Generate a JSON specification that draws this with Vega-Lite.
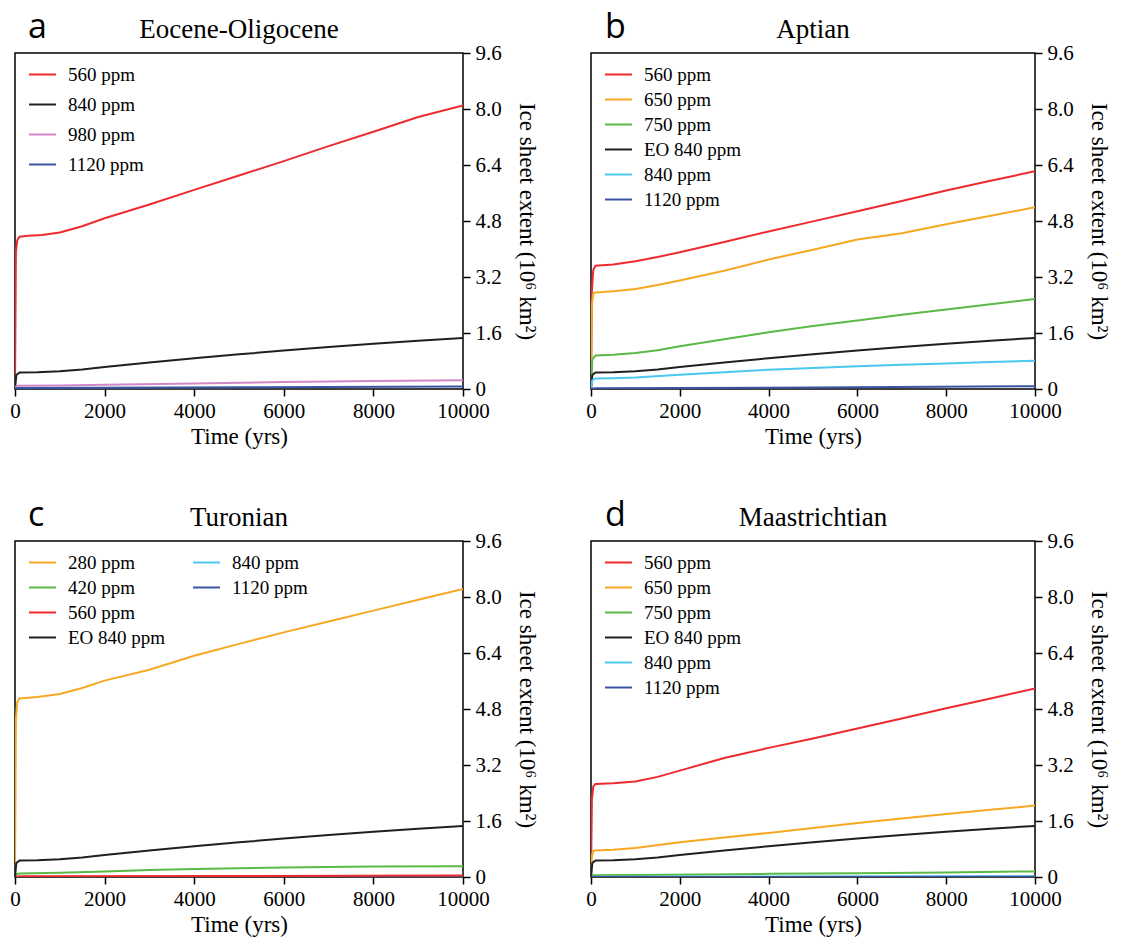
{
  "$schema": "https://vega.github.io/schema/vega-lite/v6.json",
  "background": "white",
  "padding": {"left": 9, "top": 11, "right": 0, "bottom": 0},
  "spacing": 50,
  "resolve": {"scale": {"color": "independent", "stroke": "independent"}, "legend": {"color": "independent", "stroke": "independent"}},
  "config": {
    "font": "Liberation Serif",
    "view": {"stroke": "black", "strokeWidth": 1.5},
    "axis": {"grid": false, "domain": false, "tickSize": 7, "tickWidth": 1.5, "tickColor": "black", "labelFont": "Liberation Serif", "labelFontSize": 21, "labelColor": "black", "titleFont": "Liberation Serif", "titleFontSize": 23, "titleFontWeight": "normal", "titleColor": "black", "labelFlush": false, "labelOverlap": false},
    "axisX": {"labelPadding": 4, "titlePadding": 4, "format": "d"},
    "axisY": {"labelPadding": 5, "titlePadding": 13},
    "legend": {"padding": 0, "labelFont": "Liberation Serif", "labelFontSize": 19, "labelColor": "black", "symbolType": "stroke", "symbolSize": 729, "symbolStrokeWidth": 2, "labelOffset": 11, "rowPadding": -1},
    "title": {"font": "Liberation Serif", "fontSize": 27, "fontWeight": "normal", "color": "black"},
    "concat": {"spacing": 47}
  },
  "datasets": {
    "A": [
      {"t":0,"v":0,"s":"560 ppm"},{"t":20,"v":3.9,"s":"560 ppm"},{"t":50,"v":4.25,"s":"560 ppm"},{"t":100,"v":4.35,"s":"560 ppm"},{"t":300,"v":4.38,"s":"560 ppm"},{"t":600,"v":4.4,"s":"560 ppm"},{"t":1000,"v":4.47,"s":"560 ppm"},{"t":1500,"v":4.65,"s":"560 ppm"},{"t":2000,"v":4.88,"s":"560 ppm"},{"t":3000,"v":5.27,"s":"560 ppm"},{"t":4000,"v":5.69,"s":"560 ppm"},{"t":5000,"v":6.1,"s":"560 ppm"},{"t":6000,"v":6.51,"s":"560 ppm"},{"t":7000,"v":6.94,"s":"560 ppm"},{"t":8000,"v":7.35,"s":"560 ppm"},{"t":9000,"v":7.77,"s":"560 ppm"},{"t":10000,"v":8.1,"s":"560 ppm"},
      {"t":0,"v":0,"s":"840 ppm"},{"t":30,"v":0.4,"s":"840 ppm"},{"t":100,"v":0.47,"s":"840 ppm"},{"t":500,"v":0.48,"s":"840 ppm"},{"t":1000,"v":0.51,"s":"840 ppm"},{"t":1500,"v":0.56,"s":"840 ppm"},{"t":2000,"v":0.63,"s":"840 ppm"},{"t":3000,"v":0.76,"s":"840 ppm"},{"t":4000,"v":0.88,"s":"840 ppm"},{"t":5000,"v":0.99,"s":"840 ppm"},{"t":6000,"v":1.1,"s":"840 ppm"},{"t":7000,"v":1.2,"s":"840 ppm"},{"t":8000,"v":1.29,"s":"840 ppm"},{"t":9000,"v":1.38,"s":"840 ppm"},{"t":10000,"v":1.46,"s":"840 ppm"},
      {"t":0,"v":0.05,"s":"980 ppm"},{"t":50,"v":0.09,"s":"980 ppm"},{"t":1000,"v":0.1,"s":"980 ppm"},{"t":2000,"v":0.12,"s":"980 ppm"},{"t":4000,"v":0.16,"s":"980 ppm"},{"t":6000,"v":0.2,"s":"980 ppm"},{"t":8000,"v":0.23,"s":"980 ppm"},{"t":10000,"v":0.25,"s":"980 ppm"},
      {"t":0,"v":0.02,"s":"1120 ppm"},{"t":100,"v":0.03,"s":"1120 ppm"},{"t":5000,"v":0.05,"s":"1120 ppm"},{"t":10000,"v":0.07,"s":"1120 ppm"}
    ],
    "B": [
      {"t":0,"v":0,"s":"560 ppm"},{"t":20,"v":2.8,"s":"560 ppm"},{"t":50,"v":3.4,"s":"560 ppm"},{"t":100,"v":3.52,"s":"560 ppm"},{"t":500,"v":3.56,"s":"560 ppm"},{"t":1000,"v":3.65,"s":"560 ppm"},{"t":1500,"v":3.77,"s":"560 ppm"},{"t":2000,"v":3.91,"s":"560 ppm"},{"t":3000,"v":4.2,"s":"560 ppm"},{"t":4000,"v":4.5,"s":"560 ppm"},{"t":5000,"v":4.79,"s":"560 ppm"},{"t":6000,"v":5.08,"s":"560 ppm"},{"t":7000,"v":5.37,"s":"560 ppm"},{"t":8000,"v":5.67,"s":"560 ppm"},{"t":9000,"v":5.95,"s":"560 ppm"},{"t":10000,"v":6.22,"s":"560 ppm"},
      {"t":0,"v":0,"s":"650 ppm"},{"t":20,"v":2.4,"s":"650 ppm"},{"t":50,"v":2.72,"s":"650 ppm"},{"t":100,"v":2.76,"s":"650 ppm"},{"t":500,"v":2.79,"s":"650 ppm"},{"t":1000,"v":2.86,"s":"650 ppm"},{"t":1500,"v":2.97,"s":"650 ppm"},{"t":2000,"v":3.1,"s":"650 ppm"},{"t":3000,"v":3.38,"s":"650 ppm"},{"t":4000,"v":3.7,"s":"650 ppm"},{"t":5000,"v":3.98,"s":"650 ppm"},{"t":6000,"v":4.27,"s":"650 ppm"},{"t":7000,"v":4.45,"s":"650 ppm"},{"t":8000,"v":4.71,"s":"650 ppm"},{"t":9000,"v":4.95,"s":"650 ppm"},{"t":10000,"v":5.19,"s":"650 ppm"},
      {"t":0,"v":0,"s":"750 ppm"},{"t":30,"v":0.85,"s":"750 ppm"},{"t":100,"v":0.96,"s":"750 ppm"},{"t":500,"v":0.98,"s":"750 ppm"},{"t":1000,"v":1.03,"s":"750 ppm"},{"t":1500,"v":1.11,"s":"750 ppm"},{"t":2000,"v":1.22,"s":"750 ppm"},{"t":3000,"v":1.42,"s":"750 ppm"},{"t":4000,"v":1.62,"s":"750 ppm"},{"t":5000,"v":1.8,"s":"750 ppm"},{"t":6000,"v":1.96,"s":"750 ppm"},{"t":7000,"v":2.12,"s":"750 ppm"},{"t":8000,"v":2.27,"s":"750 ppm"},{"t":9000,"v":2.42,"s":"750 ppm"},{"t":10000,"v":2.57,"s":"750 ppm"},
      {"t":0,"v":0,"s":"EO 840 ppm"},{"t":30,"v":0.4,"s":"EO 840 ppm"},{"t":100,"v":0.47,"s":"EO 840 ppm"},{"t":500,"v":0.48,"s":"EO 840 ppm"},{"t":1000,"v":0.51,"s":"EO 840 ppm"},{"t":1500,"v":0.56,"s":"EO 840 ppm"},{"t":2000,"v":0.63,"s":"EO 840 ppm"},{"t":3000,"v":0.76,"s":"EO 840 ppm"},{"t":4000,"v":0.88,"s":"EO 840 ppm"},{"t":5000,"v":0.99,"s":"EO 840 ppm"},{"t":6000,"v":1.1,"s":"EO 840 ppm"},{"t":7000,"v":1.2,"s":"EO 840 ppm"},{"t":8000,"v":1.29,"s":"EO 840 ppm"},{"t":9000,"v":1.38,"s":"EO 840 ppm"},{"t":10000,"v":1.46,"s":"EO 840 ppm"},
      {"t":0,"v":0,"s":"840 ppm"},{"t":30,"v":0.25,"s":"840 ppm"},{"t":100,"v":0.3,"s":"840 ppm"},{"t":500,"v":0.31,"s":"840 ppm"},{"t":1000,"v":0.33,"s":"840 ppm"},{"t":2000,"v":0.41,"s":"840 ppm"},{"t":3000,"v":0.48,"s":"840 ppm"},{"t":4000,"v":0.55,"s":"840 ppm"},{"t":5000,"v":0.6,"s":"840 ppm"},{"t":6000,"v":0.65,"s":"840 ppm"},{"t":7000,"v":0.69,"s":"840 ppm"},{"t":8000,"v":0.73,"s":"840 ppm"},{"t":9000,"v":0.77,"s":"840 ppm"},{"t":10000,"v":0.81,"s":"840 ppm"},
      {"t":0,"v":0.01,"s":"1120 ppm"},{"t":100,"v":0.02,"s":"1120 ppm"},{"t":5000,"v":0.04,"s":"1120 ppm"},{"t":10000,"v":0.08,"s":"1120 ppm"}
    ],
    "C": [
      {"t":0,"v":0,"s":"280 ppm"},{"t":20,"v":4.5,"s":"280 ppm"},{"t":50,"v":5.0,"s":"280 ppm"},{"t":100,"v":5.1,"s":"280 ppm"},{"t":500,"v":5.14,"s":"280 ppm"},{"t":1000,"v":5.23,"s":"280 ppm"},{"t":1500,"v":5.4,"s":"280 ppm"},{"t":2000,"v":5.61,"s":"280 ppm"},{"t":3000,"v":5.92,"s":"280 ppm"},{"t":4000,"v":6.32,"s":"280 ppm"},{"t":5000,"v":6.66,"s":"280 ppm"},{"t":6000,"v":6.99,"s":"280 ppm"},{"t":7000,"v":7.3,"s":"280 ppm"},{"t":8000,"v":7.61,"s":"280 ppm"},{"t":9000,"v":7.92,"s":"280 ppm"},{"t":10000,"v":8.23,"s":"280 ppm"},
      {"t":0,"v":0,"s":"420 ppm"},{"t":30,"v":0.08,"s":"420 ppm"},{"t":100,"v":0.1,"s":"420 ppm"},{"t":1000,"v":0.12,"s":"420 ppm"},{"t":2000,"v":0.16,"s":"420 ppm"},{"t":3000,"v":0.2,"s":"420 ppm"},{"t":4000,"v":0.23,"s":"420 ppm"},{"t":5000,"v":0.25,"s":"420 ppm"},{"t":6000,"v":0.27,"s":"420 ppm"},{"t":8000,"v":0.3,"s":"420 ppm"},{"t":10000,"v":0.31,"s":"420 ppm"},
      {"t":0,"v":0,"s":"560 ppm"},{"t":100,"v":0.02,"s":"560 ppm"},{"t":5000,"v":0.03,"s":"560 ppm"},{"t":10000,"v":0.04,"s":"560 ppm"},
      {"t":0,"v":0,"s":"EO 840 ppm"},{"t":30,"v":0.4,"s":"EO 840 ppm"},{"t":100,"v":0.47,"s":"EO 840 ppm"},{"t":500,"v":0.48,"s":"EO 840 ppm"},{"t":1000,"v":0.51,"s":"EO 840 ppm"},{"t":1500,"v":0.56,"s":"EO 840 ppm"},{"t":2000,"v":0.63,"s":"EO 840 ppm"},{"t":3000,"v":0.76,"s":"EO 840 ppm"},{"t":4000,"v":0.88,"s":"EO 840 ppm"},{"t":5000,"v":0.99,"s":"EO 840 ppm"},{"t":6000,"v":1.1,"s":"EO 840 ppm"},{"t":7000,"v":1.2,"s":"EO 840 ppm"},{"t":8000,"v":1.29,"s":"EO 840 ppm"},{"t":9000,"v":1.38,"s":"EO 840 ppm"},{"t":10000,"v":1.46,"s":"EO 840 ppm"},
      {"t":0,"v":0,"s":"840 ppm"},{"t":10000,"v":0.01,"s":"840 ppm"},
      {"t":0,"v":0,"s":"1120 ppm"},{"t":10000,"v":0.01,"s":"1120 ppm"}
    ],
    "D": [
      {"t":0,"v":0,"s":"560 ppm"},{"t":20,"v":2.2,"s":"560 ppm"},{"t":50,"v":2.58,"s":"560 ppm"},{"t":100,"v":2.66,"s":"560 ppm"},{"t":500,"v":2.68,"s":"560 ppm"},{"t":1000,"v":2.73,"s":"560 ppm"},{"t":1500,"v":2.86,"s":"560 ppm"},{"t":2000,"v":3.04,"s":"560 ppm"},{"t":3000,"v":3.4,"s":"560 ppm"},{"t":4000,"v":3.69,"s":"560 ppm"},{"t":5000,"v":3.96,"s":"560 ppm"},{"t":6000,"v":4.24,"s":"560 ppm"},{"t":7000,"v":4.53,"s":"560 ppm"},{"t":8000,"v":4.82,"s":"560 ppm"},{"t":9000,"v":5.1,"s":"560 ppm"},{"t":10000,"v":5.39,"s":"560 ppm"},
      {"t":0,"v":0,"s":"650 ppm"},{"t":20,"v":0.6,"s":"650 ppm"},{"t":50,"v":0.74,"s":"650 ppm"},{"t":100,"v":0.76,"s":"650 ppm"},{"t":500,"v":0.78,"s":"650 ppm"},{"t":1000,"v":0.83,"s":"650 ppm"},{"t":2000,"v":0.99,"s":"650 ppm"},{"t":3000,"v":1.13,"s":"650 ppm"},{"t":4000,"v":1.26,"s":"650 ppm"},{"t":5000,"v":1.4,"s":"650 ppm"},{"t":6000,"v":1.54,"s":"650 ppm"},{"t":7000,"v":1.67,"s":"650 ppm"},{"t":8000,"v":1.8,"s":"650 ppm"},{"t":9000,"v":1.92,"s":"650 ppm"},{"t":10000,"v":2.04,"s":"650 ppm"},
      {"t":0,"v":0,"s":"750 ppm"},{"t":50,"v":0.05,"s":"750 ppm"},{"t":1000,"v":0.06,"s":"750 ppm"},{"t":4000,"v":0.09,"s":"750 ppm"},{"t":6000,"v":0.11,"s":"750 ppm"},{"t":8000,"v":0.13,"s":"750 ppm"},{"t":10000,"v":0.16,"s":"750 ppm"},
      {"t":0,"v":0,"s":"EO 840 ppm"},{"t":30,"v":0.4,"s":"EO 840 ppm"},{"t":100,"v":0.47,"s":"EO 840 ppm"},{"t":500,"v":0.48,"s":"EO 840 ppm"},{"t":1000,"v":0.51,"s":"EO 840 ppm"},{"t":1500,"v":0.56,"s":"EO 840 ppm"},{"t":2000,"v":0.63,"s":"EO 840 ppm"},{"t":3000,"v":0.76,"s":"EO 840 ppm"},{"t":4000,"v":0.88,"s":"EO 840 ppm"},{"t":5000,"v":0.99,"s":"EO 840 ppm"},{"t":6000,"v":1.1,"s":"EO 840 ppm"},{"t":7000,"v":1.2,"s":"EO 840 ppm"},{"t":8000,"v":1.29,"s":"EO 840 ppm"},{"t":9000,"v":1.38,"s":"EO 840 ppm"},{"t":10000,"v":1.46,"s":"EO 840 ppm"},
      {"t":0,"v":0,"s":"840 ppm"},{"t":100,"v":0.01,"s":"840 ppm"},{"t":10000,"v":0.02,"s":"840 ppm"},
      {"t":0,"v":0,"s":"1120 ppm"},{"t":10000,"v":0.005,"s":"1120 ppm"}
    ]
  },
  "vconcat": [
    {
      "resolve": {"scale": {"color": "independent", "stroke": "independent"}, "legend": {"color": "independent", "stroke": "independent"}},
      "hconcat": [
        {
          "title": {"text": "a", "anchor": "start", "font": "Open Sans", "fontSize": 34, "dx": 19, "offset": -30},
          "resolve": {"scale": {"color": "independent"}, "legend": {"color": "independent"}},
          "vconcat": [
            {
              "width": 448, "height": 336,
              "title": {"text": "Eocene-Oligocene", "anchor": "middle", "frame": "group", "offset": -2},
              "data": {"name": "A"},
              "mark": {"type": "line", "strokeWidth": 2, "clip": true},
              "encoding": {
                "x": {"field": "t", "type": "quantitative", "scale": {"domain": [0, 10000], "nice": false}, "axis": {"title": "Time (yrs)", "values": [0, 2000, 4000, 6000, 8000, 10000]}},
                "y": {"field": "v", "type": "quantitative", "scale": {"domain": [0, 9.6], "nice": false}, "axis": {"orient": "right", "title": "Ice sheet extent (10⁶ km²)", "values": [0, 1.6, 3.2, 4.8, 6.4, 8.0, 9.6], "labelExpr": "datum.value == 0 ? '0' : format(datum.value, '.1f')"}},
                "color": {"field": "s", "type": "nominal", "scale": {"domain": ["560 ppm", "840 ppm", "980 ppm", "1120 ppm"], "range": ["#ee2a2e", "#231f20", "#d087c8", "#3a55a4"]}, "legend": {"title": null, "rowPadding": 5, "orient": "none", "legendX": 13, "legendY": 7}}
              }
            }
          ]
        },
        {
          "title": {"text": "b", "anchor": "start", "font": "Open Sans", "fontSize": 34, "dx": 20, "offset": -30},
          "resolve": {"scale": {"color": "independent"}, "legend": {"color": "independent"}},
          "vconcat": [
            {
              "width": 444, "height": 336,
              "title": {"text": "Aptian", "anchor": "middle", "frame": "group", "offset": -2},
              "data": {"name": "B"},
              "mark": {"type": "line", "strokeWidth": 2, "clip": true},
              "encoding": {
                "x": {"field": "t", "type": "quantitative", "scale": {"domain": [0, 10000], "nice": false}, "axis": {"title": "Time (yrs)", "values": [0, 2000, 4000, 6000, 8000, 10000]}},
                "y": {"field": "v", "type": "quantitative", "scale": {"domain": [0, 9.6], "nice": false}, "axis": {"orient": "right", "title": "Ice sheet extent (10⁶ km²)", "values": [0, 1.6, 3.2, 4.8, 6.4, 8.0, 9.6], "labelExpr": "datum.value == 0 ? '0' : format(datum.value, '.1f')"}},
                "color": {"field": "s", "type": "nominal", "scale": {"domain": ["560 ppm", "650 ppm", "750 ppm", "EO 840 ppm", "840 ppm", "1120 ppm"], "range": ["#ee2a2e", "#f7a823", "#5ab947", "#231f20", "#4cc8ee", "#3a55a4"]}, "legend": {"title": null, "orient": "none", "legendX": 13, "legendY": 7}}
              }
            }
          ]
        }
      ]
    },
    {
      "resolve": {"scale": {"color": "independent", "stroke": "independent"}, "legend": {"color": "independent", "stroke": "independent"}},
      "hconcat": [
        {
          "title": {"text": "c", "anchor": "start", "font": "Open Sans", "fontSize": 34, "dx": 19, "offset": -30},
          "resolve": {"scale": {"color": "independent", "stroke": "independent"}, "legend": {"color": "independent", "stroke": "independent"}},
          "vconcat": [
            {
              "width": 448, "height": 336,
              "title": {"text": "Turonian", "anchor": "middle", "frame": "group", "offset": -2},
              "data": {"name": "C"},
              "encoding": {
                "x": {"field": "t", "type": "quantitative", "scale": {"domain": [0, 10000], "nice": false}, "axis": {"title": "Time (yrs)", "values": [0, 2000, 4000, 6000, 8000, 10000]}},
                "y": {"field": "v", "type": "quantitative", "scale": {"domain": [0, 9.6], "nice": false}, "axis": {"orient": "right", "title": "Ice sheet extent (10⁶ km²)", "values": [0, 1.6, 3.2, 4.8, 6.4, 8.0, 9.6], "labelExpr": "datum.value == 0 ? '0' : format(datum.value, '.1f')"}}
              },
              "resolve": {"scale": {"color": "independent", "stroke": "independent"}, "legend": {"color": "independent", "stroke": "independent"}},
              "layer": [
                {
                  "transform": [{"filter": {"field": "s", "oneOf": ["840 ppm", "1120 ppm"]}}],
                  "mark": {"type": "line", "strokeWidth": 2, "clip": true},
                  "encoding": {
                    "stroke": {"field": "s", "type": "nominal", "scale": {"domain": ["840 ppm", "1120 ppm"], "range": ["#4cc8ee", "#3a55a4"]}, "legend": {"title": null, "orient": "none", "legendX": 177, "legendY": 7}}
                  }
                },
                {
                  "transform": [{"filter": {"field": "s", "oneOf": ["280 ppm", "420 ppm", "560 ppm", "EO 840 ppm"]}}],
                  "mark": {"type": "line", "strokeWidth": 2, "clip": true},
                  "encoding": {
                    "color": {"field": "s", "type": "nominal", "scale": {"domain": ["280 ppm", "420 ppm", "560 ppm", "EO 840 ppm"], "range": ["#f7a823", "#5ab947", "#ee2a2e", "#231f20"]}, "legend": {"title": null, "orient": "none", "legendX": 13, "legendY": 7}}
                  }
                }
              ]
            }
          ]
        },
        {
          "title": {"text": "d", "anchor": "start", "font": "Open Sans", "fontSize": 34, "dx": 20, "offset": -30},
          "resolve": {"scale": {"color": "independent"}, "legend": {"color": "independent"}},
          "vconcat": [
            {
              "width": 444, "height": 336,
              "title": {"text": "Maastrichtian", "anchor": "middle", "frame": "group", "offset": -2},
              "data": {"name": "D"},
              "mark": {"type": "line", "strokeWidth": 2, "clip": true},
              "encoding": {
                "x": {"field": "t", "type": "quantitative", "scale": {"domain": [0, 10000], "nice": false}, "axis": {"title": "Time (yrs)", "values": [0, 2000, 4000, 6000, 8000, 10000]}},
                "y": {"field": "v", "type": "quantitative", "scale": {"domain": [0, 9.6], "nice": false}, "axis": {"orient": "right", "title": "Ice sheet extent (10⁶ km²)", "values": [0, 1.6, 3.2, 4.8, 6.4, 8.0, 9.6], "labelExpr": "datum.value == 0 ? '0' : format(datum.value, '.1f')"}},
                "color": {"field": "s", "type": "nominal", "scale": {"domain": ["560 ppm", "650 ppm", "750 ppm", "EO 840 ppm", "840 ppm", "1120 ppm"], "range": ["#ee2a2e", "#f7a823", "#5ab947", "#231f20", "#4cc8ee", "#3a55a4"]}, "legend": {"title": null, "orient": "none", "legendX": 13, "legendY": 7}}
              }
            }
          ]
        }
      ]
    }
  ]
}
